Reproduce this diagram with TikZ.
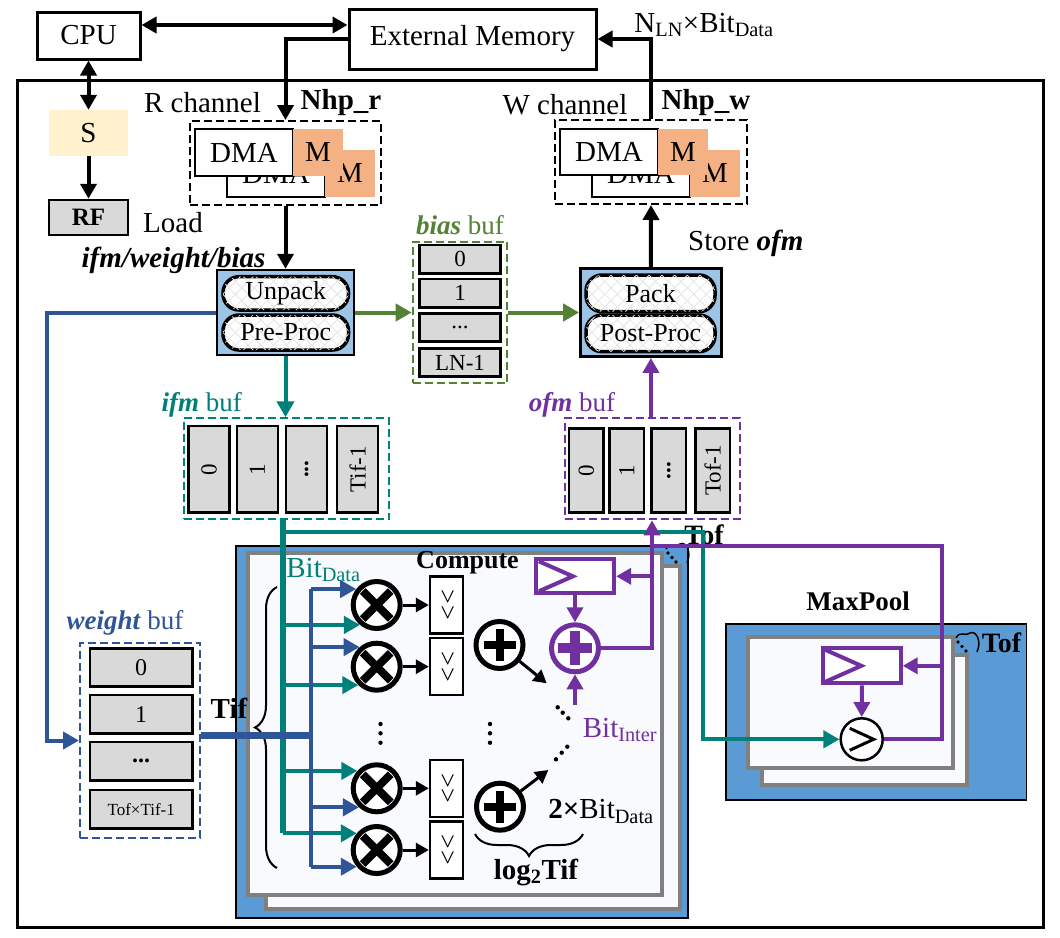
\documentclass[tikz,border=0pt]{standalone}
\usepackage{fontspec}
\usepackage{graphicx}
\setmainfont{Liberation Serif}
\usetikzlibrary{arrows.meta,decorations.pathreplacing,patterns.meta}
\definecolor{lblue}{RGB}{47,85,151}
\definecolor{mteal}{RGB}{0,128,122}
\definecolor{mpurple}{RGB}{112,48,160}
\definecolor{mgreen}{RGB}{84,130,53}
\definecolor{morange}{RGB}{244,177,131}
\definecolor{sfill}{RGB}{255,242,204}
\definecolor{cgray}{RGB}{217,217,217}
\definecolor{lblock}{RGB}{157,195,230}
\definecolor{cblue}{RGB}{91,155,213}
\definecolor{pgray}{RGB}{128,128,128}
\definecolor{pfill}{RGB}{248,250,253}
\newcommand\myfs[1]{\fontsize{#1}{#1}\selectfont}
\begin{document}
\begin{tikzpicture}[x=1pt,y=-1pt,font=\myfs{29},
  wh/.style 2 args={minimum width=#1pt,minimum height=#2pt},
  box/.style={draw,line width=2.5pt,fill=white,inner sep=0pt},
  cell/.style={draw,line width=2.5pt,fill=cgray,inner sep=0pt,font=\myfs{23}},
  dbox/.style={draw,line width=2pt,dash pattern=on 8pt off 4pt,inner sep=0pt},
  pill/.style={draw,line width=3.5pt,rounded corners=16pt,fill=white,inner sep=0pt,font=\myfs{26},
     postaction={pattern={Lines[angle=45,distance=9pt,line width=0.8pt]},pattern color=black!10},
     postaction={pattern={Lines[angle=-45,distance=9pt,line width=0.8pt]},pattern color=black!10}},
  blk/.style={draw,line width=2.5pt,fill=lblock,inner sep=0pt},
  karr/.style={line width=4pt,-{Triangle[length=15pt,width=16pt]}},
  kdbl/.style={line width=4pt,{Triangle[length=15pt,width=16pt]}-{Triangle[length=15pt,width=16pt]}},
  sarr/.style={line width=3pt,-{Triangle[length=13pt,width=14pt]}},
  garr/.style={mgreen,line width=4pt,-{Triangle[length=16pt,width=17pt]}},
  tarr/.style={mteal,line width=4pt,-{Triangle[length=16pt,width=17pt]}},
  barr/.style={lblue,line width=4pt,-{Triangle[length=16pt,width=17pt]}},
  parr/.style={mpurple,line width=4pt,-{Triangle[length=15pt,width=16pt]}},
  pline/.style={mpurple,line width=4pt},
  panel/.style={draw=pgray,line width=4pt,fill=pfill,inner sep=0pt},
  bluebg/.style={draw=black,line width=1.5pt,fill=cblue,inner sep=0pt},
  oper/.style={circle,draw,line width=5pt,minimum size=47pt,inner sep=0pt,fill=white},
  preg/.style={draw=mpurple,line width=4pt,fill=white,inner sep=0pt},
  squig/.pic={\draw[line width=1.5pt] (0,8) .. controls (4,0) and (10,7) .. (14,3) .. controls (20,0) and (26,11) .. (21,22);
     \fill (2,12) circle (1.8pt) (6,16.5) circle (1.8pt) (10,21) circle (1.8pt);}
]
\useasboundingbox (0,0) rectangle (1060,937);
\fill[white] (0,0) rectangle (1060,937);

% frame
\node (frame) [draw,line width=3pt,wh={1026}{847},inner sep=0pt] at (530,503.5) {};

% compute and maxpool backgrounds
\node (cbg) [bluebg,wh={452}{372}] at (462,732) {};
\node (cback) [panel,wh={414}{343}] at (473,737.5) {};
\node (cfront) [panel,wh={414}{342}] at (455,724) {};
\node (mbg) [bluebg,wh={300.7}{176}] at (876.35,712) {};
\node (mback) [panel,wh={205}{130}] at (864.2,720) {};
\node (mfront) [panel,wh={205}{131}] at (850.8,702.8) {};

% top
\node (cpu) [box,line width=3pt,wh={103}{47}] at (88.5,35.5) {CPU};
\node (ext) [box,line width=3pt,wh={247}{60}] at (472.5,39) {External Memory};
\node (s) [fill=sfill,inner sep=0pt,wh={79}{46}] at (88.5,133) {S};
\node (rf) [cell,font=\myfs{25}\bfseries,wh={79}{35}] at (88.5,217.5) {RF};

% R channel
\node (rbox) [dbox,wh={191}{84}] at (285.5,163) {};
\node (rdma2) [box,wh={98}{47}] at (276,173.5) {DMA};
\node (rm2) [fill=morange,inner sep=0pt,wh={50}{47}] at (350,173.5) {M};
\node (rdma1) [box,wh={98}{47}] at (244,152.5) {DMA};
\node (rm1) [fill=morange,inner sep=0pt,wh={50}{47}] at (318,152.5) {M};
% W channel
\node (wbox) [dbox,wh={192}{84}] at (651,162) {};
\node (wdma2) [box,wh={98}{47}] at (641,173.5) {DMA};
\node (wm2) [fill=morange,inner sep=0pt,wh={50}{47}] at (715,173.5) {M};
\node (wdma1) [box,wh={98}{46}] at (609,152) {DMA};
\node (wm1) [fill=morange,inner sep=0pt,wh={50}{46}] at (683,152) {M};

% labels top
\node (rch) at (202.5,103) {R channel};
\node (nhpr) at (341,103) {\bfseries Nhp\_r};
\node (wch) at (565,105) {W channel};
\node (nhpw) at (706,103) {\bfseries Nhp\_w};
\node (nln) at (704,25) {N\textsubscript{LN}×Bit\textsubscript{Data}};
\node (load) [anchor=west,inner sep=0pt] at (143,223) {Load};
\node (iwb) at (173.5,260) {\bfseries\itshape ifm/weight/bias};
\node (store) [anchor=west,inner sep=0pt] at (688,243) {Store \textbf{\textit{ofm}}};

% unpack / pack blocks
\node (unp) [blk,wh={137}{85}] at (285.5,312.5) {};
\node (unpack) [pill,wh={125.5}{33.3}] at (285.75,293.35) {Unpack};
\node (preproc) [pill,wh={125.5}{35}] at (285.75,332.5) {Pre-Proc};
\node (pack) [blk,wh={141}{88.4}] at (650.9,312.5) {};
\node (packp) [pill,wh={129}{36.7}] at (650.5,293.35) {Pack};
\node (post) [pill,wh={129}{36.7}] at (650.5,333.35) {Post-Proc};

% bias buf
\node (bias) [dbox,draw=mgreen,wh={94.7}{141.6}] at (460,312.5) {};
\node (b0) [cell,wh={80.7}{28.3}] at (460,259.2) {0};
\node (b1) [cell,wh={80.7}{28.3}] at (460,293.3) {1};
\node (b2) [cell,wh={80.7}{28.3}] at (460,327.5) {...};
\node (b3) [cell,wh={80.7}{28.3}] at (460,362.5) {LN-1};
\node (biaslbl) [text=mgreen,font=\myfs{27}] at (460,225) {\textbf{\textit{bias}} buf};

% ifm buf
\node (ifm) [dbox,draw=mteal,wh={205.5}{101}] at (286.5,468.8) {};
\node (i0) [cell,wh={41}{86.7}] at (209,469.3) {\rotatebox{90}{0}};
\node (i1) [cell,wh={41}{86.7}] at (257.4,469.3) {\rotatebox{90}{1}};
\node (i2) [cell,wh={41}{86.7}] at (306.7,469.3) {\rotatebox{90}{\textbf{...}}};
\node (i3) [cell,wh={41}{86.7}] at (357.6,469.3) {\rotatebox{90}{Tif-1}};
\node (ifmlbl) [text=mteal,font=\myfs{27}] at (201.7,405) {\textbf{\textit{ifm}} buf};

% ofm buf
\node (ofm) [dbox,draw=mpurple,wh={175}{101}] at (652,468.8) {};
\node (o0) [cell,wh={34.5}{84.4}] at (586.3,470.5) {\rotatebox{90}{0}};
\node (o1) [cell,wh={34.5}{84.4}] at (626.9,470.5) {\rotatebox{90}{1}};
\node (o2) [cell,wh={34.5}{84.4}] at (668.9,470.5) {\rotatebox{90}{\textbf{...}}};
\node (o3) [cell,wh={34.5}{84.4}] at (712.6,470.5) {\rotatebox{90}{Tof-1}};
\node (ofmlbl) [text=mpurple,font=\myfs{27}] at (572,405) {\textbf{\textit{ofm}} buf};

% weight buf
\node (wbuf) [dbox,draw=lblue,wh={120}{195.6}] at (140,740.5) {};
\node (w0) [cell,font=\myfs{24},wh={102.3}{38.4}] at (141.2,667.5) {0};
\node (w1) [cell,font=\myfs{24},wh={102.3}{38.4}] at (141.2,714.2) {1};
\node (w2) [cell,font=\myfs{24},wh={102.3}{38.4}] at (141.2,761.2) {\textbf{...}};
\node (w3) [cell,font=\myfs{17},wh={102.3}{38.4}] at (141.2,809.2) {Tof×Tif-1};
\node (wlbl) [text=lblue,font=\myfs{27}] at (125,623.3) {\textbf{\textit{weight}} buf};

% operators
\foreach \n/\y in {1/605,2/666.7,3/788.3,4/850} {
  \node (m\n) [oper] at (376.7,\y) {};
  \draw[line width=8pt] (m\n) ++(-14,-14) -- ++(28,28) (m\n) ++(14,-14) -- ++(-28,28);
  \node (c\n) [box,wh={33}{57}] at (446.5,\y) {\rotatebox{-90}{\myfs{26}>{}\kern1pt>}};
}
\node (a1) [oper] at (499.5,645) {};
\draw[line width=8pt] (a1) ++(-16,0) -- ++(32,0) (a1) ++(0,-16) -- ++(0,32);
\node (a2) [oper] at (500,806.7) {};
\draw[line width=8pt] (a2) ++(-16,0) -- ++(32,0) (a2) ++(0,-16) -- ++(0,32);
\node (pa) [oper,draw=mpurple] at (575,648.3) {};
\draw[mpurple,line width=10pt] (pa) ++(-17,0) -- ++(34,0) (pa) ++(0,-17) -- ++(0,34);
\node (preg) [preg,wh={78.3}{34}] at (575,576.3) {};
\draw[mpurple,line width=4pt] (preg.west) ++(5,-15) -- ++(34,15) -- ++(-34,15);
\node (mreg) [preg,wh={77.4}{35}] at (862,665.8) {};
\draw[mpurple,line width=4pt] (mreg.west) ++(4,-16) -- ++(36,16) -- ++(-36,16);
\node (cmp) [circle,draw,line width=2.5pt,minimum size=42pt,inner sep=0pt,fill=white] at (861.7,739.3) {};
\draw[line width=3pt] (cmp) ++(-12,-11) -- ++(24,11) -- ++(-24,11);

% compute labels
\node (complbl) [font=\myfs{26}\bfseries] at (467.5,563) {Compute};
\node (bitd) [text=mteal] at (323.5,570) {Bit\textsubscript{Data}};
\node (biti) [text=mpurple] at (620,730) {Bit\textsubscript{Inter}};
\node (twob) at (601,811.7) {\textbf{2×}Bit\textsubscript{Data}};
\node (log) [font=\myfs{29}\bfseries] at (536,872) {log\textsubscript{2}Tif};
\node (tif) [font=\myfs{29}\bfseries] at (229,708) {Tif};
\node (tof1) [font=\myfs{28}\bfseries] at (704,535) {Tof};
\node (mpl) [font=\myfs{27}\bfseries] at (858,601.7) {MaxPool};
\node (tof2) [font=\myfs{28}\bfseries] at (1001.5,643) {Tof};
\pic at (666,541) {squig};
\pic at (956,630) {squig};

% braces
\draw[line width=2pt,decorate,decoration={brace,amplitude=22pt}] (277,868) -- (277,587);
\draw[line width=2pt,decorate,decoration={brace,amplitude=22pt}] (583,834) -- (475,834);

% dots
\foreach \x in {380.5,490} \foreach \y in {724,733.3,742.7} \fill (\x,\y) circle (2.2pt);
\fill (557.7,707.3) circle (2.2pt) (562.7,712.7) circle (2.2pt) (568.3,718.3) circle (2.2pt)
      (556,759.3) circle (2.2pt) (561.7,752.7) circle (2.2pt) (567.3,746.7) circle (2.2pt);

% black connectors
\draw[kdbl] (cpu.east |- 0,25) -- (ext.west |- 0,25);
\draw[kdbl] (cpu.south) -- (s.north);
\draw[karr] (s.south) -- (rf.north);
\draw[karr] (ext.west |- 0,39) -| (rbox.north);
\draw[karr] (rbox.south) -- (unp.north);
\draw[karr] (wbox.north) |- (ext.east |- 0,39);
\draw[karr] (pack.north) -- (wbox.south);
\foreach \n in {1,2,3,4} \draw[sarr] (m\n.east) -- (c\n.west);
\coordinate (d1) at (546.7,683.3);
\coordinate (d2) at (548.3,770);
\draw[sarr] (a1.-39) -- (d1);
\draw[sarr] (a2.37) -- (d2);

% green
\draw[garr] (unp.east) -- (bias.west);
\draw[garr] (bias.east) -- (pack.west);

% teal
\draw[tarr] (unp.south) -- (unp.south |- ifm.north);
\coordinate (tj) at (283,531.7);
\draw[mteal,line width=6pt] (ifm.south -| tj) -- (m4.140 -| tj);
\draw[tarr] (tj) -| (cmp.west -| 702.7,0) -- (cmp.west);
\foreach \m/\a in {1/230,2/225,3/138,4/140} \draw[tarr] (m\m.\a -| tj) -- (m\m.\a);

% blue
\draw[barr] (unp.west) -| (wbuf.west -| 46.7,0) -- (wbuf.west);
\draw[lblue,line width=4pt] (m1.142 -| 311,0) -- (m4.220 -| 311,0);
\foreach \m/\a in {1/142,2/131,3/227,4/220} \draw[barr] (m\m.\a -| 311,0) -- (m\m.\a);
\draw[lblue,line width=7pt] (wbuf.east |- 0,735) -- (311,735);

% purple
\draw[parr] (pack.south |- ofm.north) -- (pack.south);
\draw[parr] (pa.east) -| (ofm.south);
\draw[parr] (preg.east -| ofm.south) -- (preg.east);
\draw[parr] (preg.south) -- (pa.north);
\coordinate (pin) at (575,705);
\draw[parr] (pin) -- (pa.south);
\draw[pline] (cmp.east) -| (941.7,546) -- (ofm.south |- 0,546);
\draw[parr] (mreg.east -| 941.7,0) -- (mreg.east);
\draw[parr] (mreg.south) -- (cmp.north);
\end{tikzpicture}
\end{document}
